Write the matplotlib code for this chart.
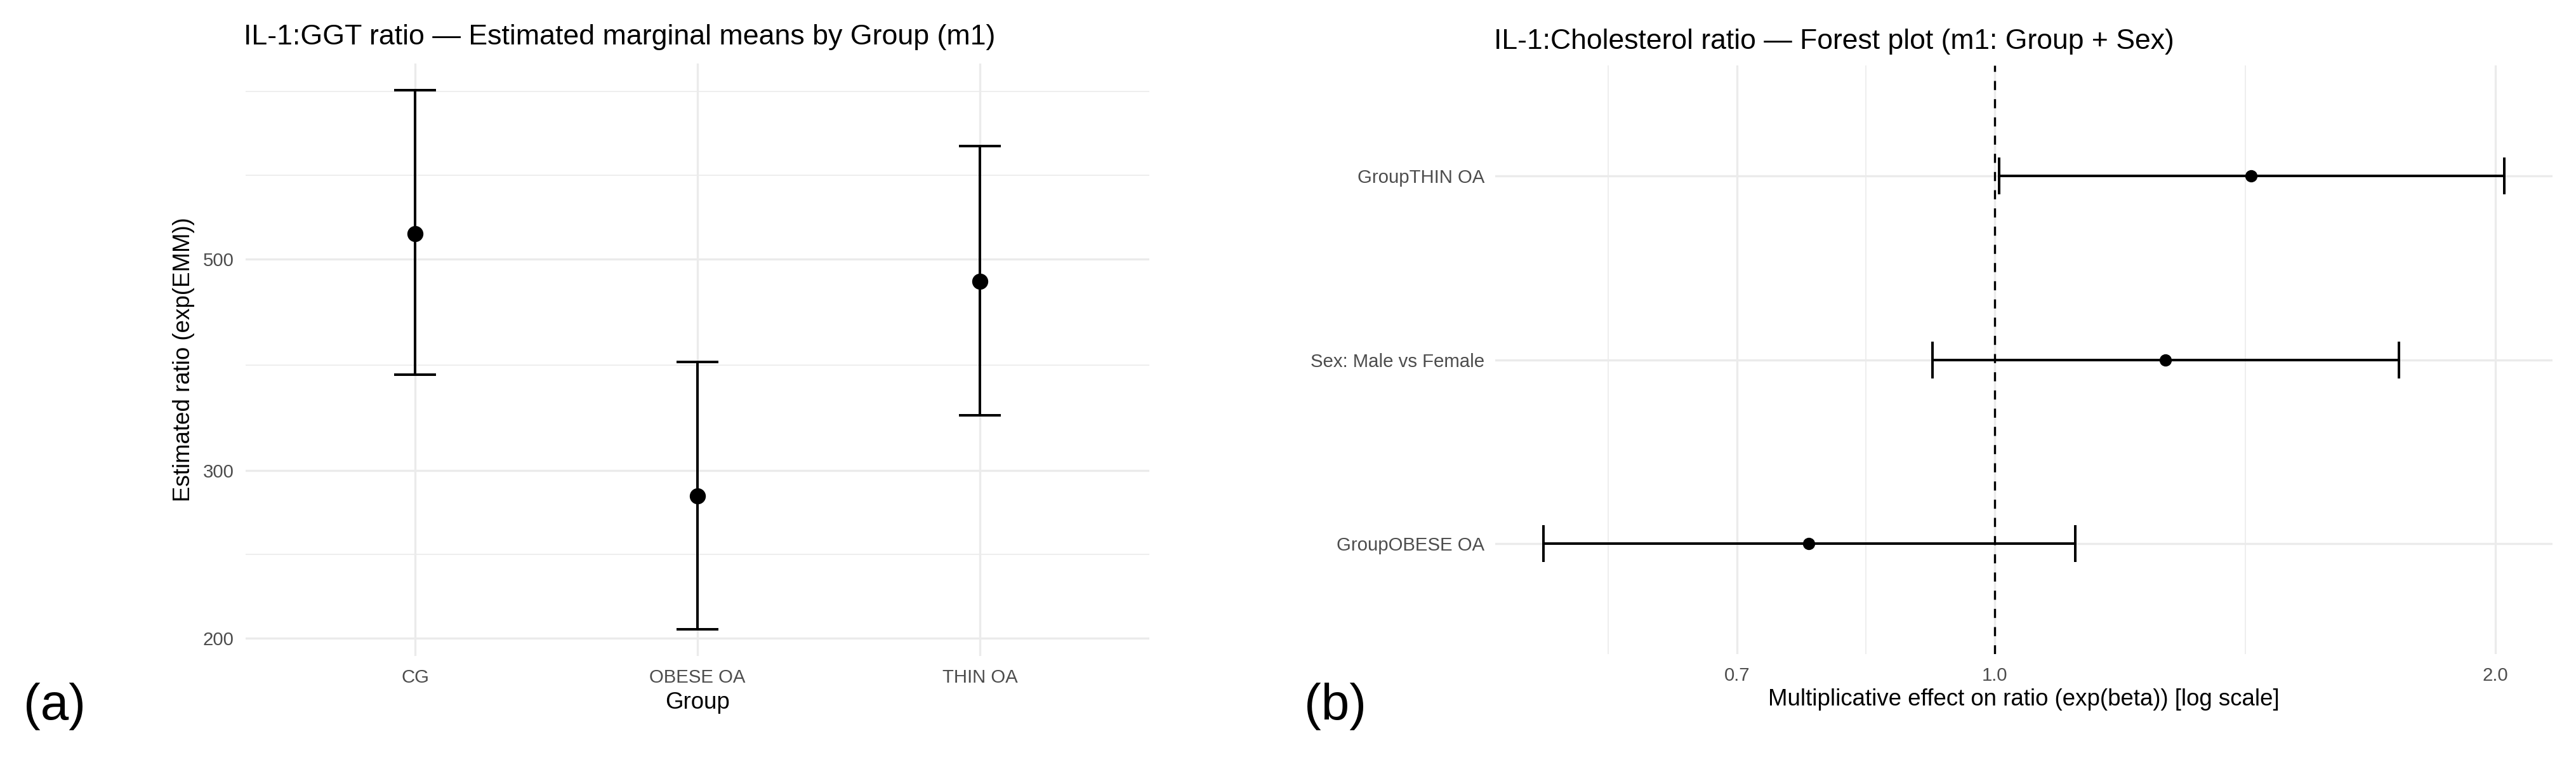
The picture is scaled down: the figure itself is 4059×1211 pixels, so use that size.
import numpy as np
import matplotlib
matplotlib.use("Agg")
import matplotlib.pyplot as plt

# ---------------- data ----------------
# Panel (a): estimated marginal means (back-transformed) by group
groups = ["CG", "OBESE OA", "THIN OA"]
emm = [532, 282, 474]
emm_lower = [378, 204.5, 343]
emm_upper = [752, 390, 657]
a_yticks = [200, 300, 500]
a_yticklabels = ["200", "300", "500"]

# Panel (b): forest plot, listed top to bottom
terms = ["GroupTHIN OA", "Sex: Male vs Female", "GroupOBESE OA"]
beta_exp = [1.4265, 1.267, 0.7731]
beta_lower = [1.0061, 0.9177, 0.5355]
beta_upper = [2.025, 1.750, 1.1185]
b_xticks = [0.7, 1.0, 2.0]
b_xticklabels = ["0.7", "1.0", "2.0"]
ref_value = 1.0

title_a = "IL-1:GGT ratio \u2014 Estimated marginal means by Group (m1)"
title_b = "IL-1:Cholesterol ratio \u2014 Forest plot (m1: Group + Sex)"
xlabel_a = "Group"
ylabel_a = "Estimated ratio (exp(EMM))"
xlabel_b = "Multiplicative effect on ratio (exp(beta)) [log scale]"

# ---------------- style ----------------
W, H = 4059, 1211
DPI = 240
plt.rcParams["font.family"] = ["Liberation Sans", "DejaVu Sans"]
GRID = "#EBEBEB"
TICKC = "#4D4D4D"
MAJ_LW = 1.0
MIN_LW = 0.5
BAR_LW = 1.2


def rect(l, t, r, b):
    return [l / W, 1 - b / H, (r - l) / W, (b - t) / H]


def log_limits(lo, hi, mult=0.05):
    llo, lhi = np.log10(lo), np.log10(hi)
    d = (lhi - llo) * mult
    return 10 ** (llo - d), 10 ** (lhi + d)


def gg_minor(majors, lims):
    b = list(np.log10(majors))
    ll = np.log10(lims)
    bd = b[1] - b[0]
    if ll[0] < b[0]:
        b = [b[0] - bd] + b
    if ll[1] > b[-1]:
        b = b + [b[-1] + bd]
    pts = []
    for i in range(len(b) - 1):
        pts += [b[i], (b[i] + b[i + 1]) / 2, b[i + 1]]
    pts = np.unique(np.round(pts, 10))
    maj = np.log10(majors)
    out = [10 ** p for p in pts
           if ll[0] <= p <= ll[1] and np.min(np.abs(maj - p)) > 1e-9]
    return out


def clean(ax):
    for s in ax.spines.values():
        s.set_visible(False)
    ax.tick_params(which="both", length=0)
    ax.set_facecolor("white")


fig = plt.figure(figsize=(W / DPI, H / DPI), dpi=DPI)
fig.patch.set_facecolor("white")

# ---------------- panel (a) ----------------
axa = fig.add_axes(rect(387, 100, 1811, 1033))
clean(axa)
xa = np.arange(len(groups))
axa.set_yscale("log")
ylim_a = log_limits(min(emm_lower), max(emm_upper))
axa.set_ylim(*ylim_a)
axa.set_xlim(-0.6, len(groups) - 1 + 0.6)

for v in gg_minor(a_yticks, ylim_a):
    axa.axhline(v, color=GRID, lw=MIN_LW, zorder=0)
for v in a_yticks:
    axa.axhline(v, color=GRID, lw=MAJ_LW, zorder=0.5)
for x in xa:
    axa.axvline(x, color=GRID, lw=MAJ_LW, zorder=0.5)

yerr_a = [np.array(emm) - np.array(emm_lower), np.array(emm_upper) - np.array(emm)]
axa.errorbar(xa, emm, yerr=yerr_a, fmt="none", ecolor="black",
             elinewidth=BAR_LW, capsize=10.0, capthick=BAR_LW, zorder=3)
axa.plot(xa, emm, "o", color="black", markersize=6.6, zorder=4)

axa.set_xticks(xa)
axa.set_xticklabels(groups)
axa.set_yticks(a_yticks)
axa.set_yticklabels(a_yticklabels)
axa.yaxis.set_minor_locator(matplotlib.ticker.NullLocator())
axa.tick_params(axis="x", pad=6, labelsize=8.8, labelcolor=TICKC)
axa.tick_params(axis="y", pad=5.5, labelsize=8.8, labelcolor=TICKC)

fig.text(384 / W, 1 - 70 / H, title_a, ha="left", va="baseline", fontsize=13.45)
fig.text(1099 / W, 1 - 1106.5 / H, xlabel_a, ha="center", va="center", fontsize=11)
fig.text(289 / W, 1 - 566.5 / H, ylabel_a, ha="center", va="center",
         rotation=90, fontsize=11)

# ---------------- panel (b) ----------------
axb = fig.add_axes(rect(2356, 103, 4022, 1030))
clean(axb)
yb = np.arange(len(terms))[::-1]
axb.set_xscale("log")
xlim_b = log_limits(min(beta_lower), max(beta_upper))
axb.set_xlim(*xlim_b)
axb.set_ylim(-0.6, len(terms) - 1 + 0.6)

for v in gg_minor(b_xticks, xlim_b):
    axb.axvline(v, color=GRID, lw=MIN_LW, zorder=0)
for v in b_xticks:
    axb.axvline(v, color=GRID, lw=MAJ_LW, zorder=0.5)
for y in yb:
    axb.axhline(y, color=GRID, lw=MAJ_LW, zorder=0.5)

axb.axvline(ref_value, color="black", lw=1.0, linestyle=(0, (4.3, 4.3)), zorder=2)

xerr_b = [np.array(beta_exp) - np.array(beta_lower),
          np.array(beta_upper) - np.array(beta_exp)]
axb.errorbar(beta_exp, yb, xerr=xerr_b, fmt="none", ecolor="black",
             elinewidth=BAR_LW, capsize=8.6, capthick=BAR_LW, zorder=3)
axb.plot(beta_exp, yb, "o", color="black", markersize=4.8, zorder=4)

axb.set_yticks(yb)
axb.set_yticklabels(terms)
axb.set_xticks(b_xticks)
axb.set_xticklabels(b_xticklabels)
axb.xaxis.set_minor_locator(matplotlib.ticker.NullLocator())
axb.xaxis.set_minor_formatter(matplotlib.ticker.NullFormatter())
axb.tick_params(axis="x", pad=6, labelsize=8.8, labelcolor=TICKC)
axb.tick_params(axis="y", pad=5, labelsize=8.8, labelcolor=TICKC)

fig.text(2354 / W, 1 - 77 / H, title_b, ha="left", va="baseline", fontsize=13.35)
fig.text(3189 / W, 1 - 1101.5 / H, xlabel_b, ha="center", va="center", fontsize=11)

# ---------------- panel tags ----------------
fig.text(37 / W, 1 - 1113 / H, "(a)", ha="left", va="center", fontsize=24)
fig.text(2055 / W, 1 - 1113 / H, "(b)", ha="left", va="center", fontsize=24)

fig.savefig("out.png", dpi=DPI, facecolor="white")
